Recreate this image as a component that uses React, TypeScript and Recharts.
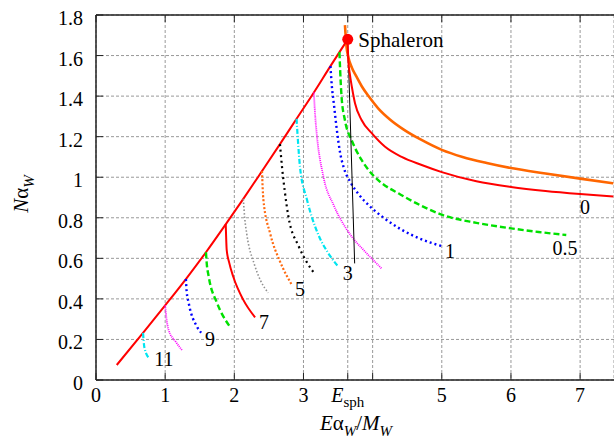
import { CartesianGrid, Line, LineChart, ReferenceDot, XAxis, YAxis } from "recharts";

const FONT = "Liberation Serif";

const E_SPH = 3.64;
const xTicks = [0, 1, 2, 3, E_SPH, 4, 5, 6, 7];
const yTicks = [0, 0.2, 0.4, 0.6, 0.8, 1, 1.2, 1.4, 1.6, 1.8];

type Pt = [number, number];

// [E alpha_W / M_W, N alpha_W] pairs
const boundary: Pt[] = [
  [0.3, 0.074], [0.68, 0.232], [1.0, 0.368], [1.3, 0.498], [1.59, 0.63], [1.88, 0.77], [2.13, 0.893],
  [2.4, 1.03], [2.66, 1.163], [2.9, 1.288], [3.15, 1.418], [3.39, 1.548], [3.52, 1.617], [3.64, 1.68],
];
const simulation: Pt[] = [
  [3.6, 1.75], [3.62, 1.65], [3.65, 1.59], [3.7, 1.54], [3.76, 1.5], [3.84, 1.45], [3.94, 1.4],
  [4.08, 1.34], [4.25, 1.285], [4.45, 1.235], [4.7, 1.185], [5.0, 1.135], [5.3, 1.1], [5.65, 1.07],
  [6.0, 1.045], [6.5, 1.018], [7.0, 0.993], [7.48, 0.97],
];
const n0: Pt[] = [
  [3.64, 1.68], [3.647, 1.58], [3.67, 1.51], [3.7, 1.445], [3.745, 1.365], [3.84, 1.282], [3.99, 1.216],
  [4.18, 1.15], [4.42, 1.1], [4.71, 1.06], [5.0, 1.025], [5.5, 0.98], [6.0, 0.952], [6.5, 0.932],
  [7.0, 0.917], [7.48, 0.905],
];
const n05: Pt[] = [
  [3.52, 1.617], [3.53, 1.53], [3.55, 1.4], [3.6, 1.28], [3.7, 1.18], [3.84, 1.085], [3.94, 1.036],
  [4.1, 0.98], [4.4, 0.915], [4.7, 0.86], [5.0, 0.815], [5.5, 0.775], [6.0, 0.748], [6.4, 0.73], [6.8, 0.715],
];
const n1: Pt[] = [
  [3.39, 1.548], [3.41, 1.45], [3.44, 1.36], [3.48, 1.24], [3.53, 1.12], [3.58, 1.05], [3.68, 0.975],
  [3.8, 0.915], [3.95, 0.86], [4.16, 0.8], [4.4, 0.745], [4.7, 0.695], [5.0, 0.66],
];
const n2: Pt[] = [
  [3.15, 1.418], [3.17, 1.3], [3.19, 1.22], [3.29, 1.0], [3.44, 0.86], [3.67, 0.72], [3.9, 0.63], [4.13, 0.55],
];
const n3: Pt[] = [
  [2.9, 1.288], [2.92, 1.18], [2.95, 1.05], [3.05, 0.89], [3.21, 0.72], [3.35, 0.63], [3.5, 0.56],
];
const n4: Pt[] = [
  [2.66, 1.163], [2.69, 1.05], [2.73, 0.93], [2.78, 0.81], [2.93, 0.66], [3.05, 0.58], [3.17, 0.52],
];
const n5: Pt[] = [[2.4, 1.03], [2.42, 0.89], [2.52, 0.72], [2.66, 0.585], [2.83, 0.47]];
const n6: Pt[] = [[2.13, 0.893], [2.15, 0.8], [2.18, 0.72], [2.29, 0.57], [2.38, 0.49], [2.49, 0.43]];
const n7: Pt[] = [[1.876, 0.77], [1.89, 0.641], [1.925, 0.58], [1.985, 0.509], [2.13, 0.395], [2.3, 0.309]];
const n8: Pt[] = [[1.59, 0.63], [1.6, 0.58], [1.63, 0.51], [1.75, 0.38], [1.93, 0.266]];
const n9: Pt[] = [[1.3, 0.498], [1.31, 0.44], [1.34, 0.38], [1.46, 0.263], [1.52, 0.233]];
const n10: Pt[] = [[1.0, 0.368], [1.02, 0.3], [1.05, 0.247], [1.15, 0.19], [1.25, 0.145]];
const n11: Pt[] = [[0.68, 0.232], [0.7, 0.16], [0.77, 0.107]];
const sphLine: Pt[] = [[3.65, 1.58], [3.74, 0.575]];

const curveLabels: { text: string; at: Pt }[] = [
  { text: "0", at: [7.07, 0.853] },
  { text: "0.5", at: [6.78, 0.651] },
  { text: "1", at: [5.12, 0.636] },
  { text: "3", at: [3.64, 0.528] },
  { text: "5", at: [2.95, 0.449] },
  { text: "7", at: [2.43, 0.286] },
  { text: "9", at: [1.65, 0.202] },
  { text: "11", at: [0.98, 0.104] },
];

const RED = "#ff0000";
const GREEN = "#00e000";
const BLUE = "#0000ff";
const MAGENTA = "#ff00ff";
const CYAN = "#00e5f0";
const ORANGE = "#ff6a10";
const GRAY = "#909090";

const series = [
  { name: "boundary", pts: boundary, color: RED, width: 2, dash: undefined },
  { name: "n11", pts: n11, color: CYAN, width: 2.2, dash: "5 2 1 2" },
  { name: "n10", pts: n10, color: MAGENTA, width: 1.8, dash: "1 1" },
  { name: "n9", pts: n9, color: BLUE, width: 2.4, dash: "2 3" },
  { name: "n8", pts: n8, color: GREEN, width: 2.4, dash: "6 3" },
  { name: "n7", pts: n7, color: RED, width: 2, dash: undefined },
  { name: "n6", pts: n6, color: GRAY, width: 1.6, dash: "1.5 2" },
  { name: "n5", pts: n5, color: ORANGE, width: 2.2, dash: "2 2" },
  { name: "n4", pts: n4, color: "#000", width: 2.2, dash: "2 3.5" },
  { name: "n3", pts: n3, color: CYAN, width: 2.2, dash: "5 2 1 2" },
  { name: "n2", pts: n2, color: MAGENTA, width: 1.8, dash: "1 1" },
  { name: "n1", pts: n1, color: BLUE, width: 2.4, dash: "2 3" },
  { name: "n05", pts: n05, color: GREEN, width: 2.4, dash: "6 3" },
  { name: "sphLine", pts: sphLine, color: "#000", width: 1, dash: undefined },
  { name: "simulation", pts: simulation, color: "#ff6600", width: 2.6, dash: undefined },
  { name: "n0", pts: n0, color: RED, width: 2, dash: undefined },
];

const toRows = (pts: Pt[]) => pts.map(([x, y]) => ({ x, y }));

function BottomTick({ x, y, payload }: any) {
  const v = payload.value;
  let label: any = String(v);
  if (v === E_SPH) {
    label = (
      <>
        <tspan fontStyle="italic">E</tspan>
        <tspan fontSize={15} dy={5}>sph</tspan>
      </>
    );
  } else if (v === 4) {
    label = null;
  }
  return (
    <g>
      <line x1={x} x2={x} y1={y} y2={y - 7} stroke="#222" />
      {label !== null && (
        <text x={x} y={y + 22} textAnchor="middle" fontFamily={FONT} fontSize={20} fill="#000">
          {label}
        </text>
      )}
    </g>
  );
}

function LeftTick({ x, y, payload }: any) {
  return (
    <g>
      <line x1={x} x2={x + 7} y1={y} y2={y} stroke="#222" />
      <text x={x - 13} y={y + 10} textAnchor="end" fontFamily={FONT} fontSize={20} fill="#000">
        {String(payload.value)}
      </text>
    </g>
  );
}

function TopTick({ x, y }: any) {
  return <line x1={x} x2={x} y1={y} y2={y + 7} stroke="#222" />;
}

function RightTick({ x, y }: any) {
  return <line x1={x} x2={x - 7} y1={y} y2={y} stroke="#222" />;
}

function XTitle({ viewBox }: any) {
  const cx = viewBox.x + viewBox.width / 2 + 1;
  return (
    <text x={cx} y={430} textAnchor="middle" fontFamily={FONT} fontSize={21} fill="#000">
      <tspan fontStyle="italic">E</tspan>
      <tspan>α</tspan>
      <tspan fontStyle="italic" fontSize={15} dy={6}>W</tspan>
      <tspan dy={-6}>/</tspan>
      <tspan fontStyle="italic">M</tspan>
      <tspan fontStyle="italic" fontSize={15} dy={6}>W</tspan>
    </text>
  );
}

function YTitle() {
  return (
    <text x={28} y={194} transform="rotate(-90 28 194)" textAnchor="middle" fontFamily={FONT} fontSize={21} fill="#000">
      <tspan fontStyle="italic">N</tspan>
      <tspan>α</tspan>
      <tspan fontStyle="italic" fontSize={15} dy={6}>W</tspan>
    </text>
  );
}

export default function App() {
  const frame = { stroke: "#222", strokeWidth: 1.5 };
  return (
    <div style={{ position: "absolute", left: 0, top: 0, background: "#fff" }}>
      <LineChart width={614} height={447} margin={{ top: 0, right: 0, bottom: 0, left: 0 }}>
        <CartesianGrid stroke="#999" strokeDasharray="3 2" />
        <XAxis
          type="number"
          dataKey="x"
          domain={[0, 7.49]}
          ticks={xTicks}
          height={67}
          tickSize={0}
          tickMargin={0}
          tickLine={false}
          tick={BottomTick}
          axisLine={frame}
          allowDataOverflow
          label={<XTitle />}
        />
        <XAxis
          xAxisId="top"
          orientation="top"
          type="number"
          dataKey="x"
          domain={[0, 7.49]}
          ticks={xTicks}
          height={15}
          tickSize={0}
          tickMargin={0}
          tickLine={false}
          tick={TopTick}
          axisLine={frame}
          allowDataOverflow
        />
        <YAxis
          type="number"
          domain={[0, 1.8]}
          ticks={yTicks}
          width={96}
          tickSize={0}
          tickMargin={0}
          tickLine={false}
          tick={LeftTick}
          axisLine={frame}
          allowDataOverflow
          label={<YTitle />}
        />
        <YAxis
          yAxisId="right"
          orientation="right"
          type="number"
          domain={[0, 1.8]}
          ticks={yTicks}
          width={0}
          tickSize={0}
          tickMargin={0}
          tickLine={false}
          tick={RightTick}
          axisLine={frame}
          allowDataOverflow
        />
        {series.map((s) => (
          <Line
            key={s.name}
            data={toRows(s.pts)}
            dataKey="y"
            type={s.name === "sphLine" ? "linear" : "monotone"}
            stroke={s.color}
            strokeWidth={s.width}
            strokeDasharray={s.dash}
            dot={false}
            activeDot={false}
            isAnimationActive={false}
          />
        ))}
        <ReferenceDot
          x={E_SPH}
          y={1.68}
          r={5.5}
          fill={RED}
          stroke="none"
          label={{ value: "Sphaleron", position: "right", offset: 5, fontFamily: FONT, fontSize: 21, fill: "#000" }}
        />
        {curveLabels.map((l) => (
          <ReferenceDot
            key={l.text}
            x={l.at[0]}
            y={l.at[1]}
            r={1}
            shape={(p: any) => (
              <text x={p.cx} y={p.cy} dy="0.35em" textAnchor="middle" fontFamily={FONT} fontSize={20} fill="#000">
                {l.text}
              </text>
            )}
          />
        ))}
      </LineChart>
    </div>
  );
}
